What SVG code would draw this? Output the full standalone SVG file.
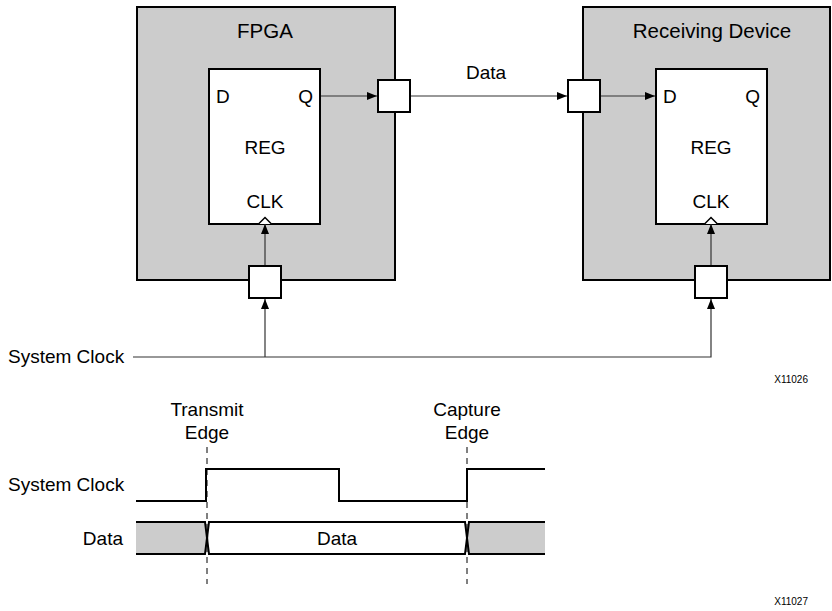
<svg xmlns="http://www.w3.org/2000/svg" width="832" height="611" viewBox="0 0 832 611">
<defs>
<style>
text{font-family:"Liberation Sans",Arial,sans-serif;fill:#000}
.lbl{font-size:19px}
.big{font-size:20.5px}
.tiny{font-size:10px}
.dev{fill:#cccccc;stroke:#000;stroke-width:2}
.reg{fill:#fff;stroke:#000;stroke-width:2}
.pad{fill:#fff;stroke:#000;stroke-width:2}
.wire{fill:none;stroke:#333;stroke-width:1.2}
.wave{fill:none;stroke:#000;stroke-width:2}
.dash{fill:none;stroke:#000;stroke-width:1;stroke-dasharray:6,5}
</style>
<marker id="arr" viewBox="0 0 10 8" refX="10" refY="4" markerWidth="10" markerHeight="8" markerUnits="userSpaceOnUse" orient="auto">
<path d="M0,0 L10,4 L0,8 z" fill="#000"/>
</marker>
</defs>
<g id="fpga">
<rect class="dev" x="137" y="7" width="258" height="273"/>
<text class="big" x="265" y="38" text-anchor="middle">FPGA</text>
</g>
<g id="fpga-reg">
<rect class="reg" x="209" y="69" width="111" height="155"/>
<text class="lbl" x="216" y="103">D</text>
<text class="lbl" x="313" y="103" text-anchor="end">Q</text>
<text class="lbl" x="265" y="154" text-anchor="middle">REG</text>
<text class="lbl" x="265" y="208" text-anchor="middle">CLK</text>
<path d="M258.5,224 L265,217.5 L271.5,224" fill="#fff" stroke="#000" stroke-width="1.5"/>
</g>
<g id="fpga-out-pad"><rect class="pad" x="378" y="80" width="32" height="32"/></g>
<g id="fpga-clk-pad"><rect class="pad" x="249" y="266" width="32" height="32"/></g>
<g id="rx">
<rect class="dev" x="583" y="7" width="247" height="273"/>
<text class="big" x="712" y="38" text-anchor="middle">Receiving Device</text>
</g>
<g id="rx-reg">
<rect class="reg" x="656" y="69" width="111" height="155"/>
<text class="lbl" x="663" y="103">D</text>
<text class="lbl" x="760" y="103" text-anchor="end">Q</text>
<text class="lbl" x="711" y="154" text-anchor="middle">REG</text>
<text class="lbl" x="711" y="208" text-anchor="middle">CLK</text>
<path d="M704.5,224 L711,217.5 L717.5,224" fill="#fff" stroke="#000" stroke-width="1.5"/>
</g>
<g id="rx-in-pad"><rect class="pad" x="568" y="80" width="32" height="32"/></g>
<g id="rx-clk-pad"><rect class="pad" x="695" y="266" width="32" height="32"/></g>
<g id="connectors">
<line class="wire" x1="321" y1="96" x2="377" y2="96" marker-end="url(#arr)"/>
<line class="wire" x1="411" y1="96" x2="567" y2="96" marker-end="url(#arr)"/>
<line class="wire" x1="601" y1="96" x2="655" y2="96" marker-end="url(#arr)"/>
<line class="wire" x1="265" y1="265" x2="265" y2="224" marker-end="url(#arr)"/>
<line class="wire" x1="711" y1="265" x2="711" y2="224" marker-end="url(#arr)"/>
<polyline class="wire" points="133,357 711,357 711,299" marker-end="url(#arr)"/>
<line class="wire" x1="265" y1="357" x2="265" y2="299" marker-end="url(#arr)"/>
</g>
<g id="labels">
<text class="lbl" x="486" y="79" text-anchor="middle">Data</text>
<text class="lbl" x="8" y="363">System Clock</text>
<text class="tiny" x="808" y="383" text-anchor="end">X11026</text>
</g>
<g id="timing">
<text class="lbl" x="207" y="416" text-anchor="middle">Transmit</text>
<text class="lbl" x="207" y="439" text-anchor="middle">Edge</text>
<text class="lbl" x="467" y="416" text-anchor="middle">Capture</text>
<text class="lbl" x="467" y="439" text-anchor="middle">Edge</text>
<line class="dash" x1="207" y1="447" x2="207" y2="584"/>
<line class="dash" x1="467" y1="447" x2="467" y2="584"/>
<text class="lbl" x="8" y="491">System Clock</text>
<polyline class="wave" points="136,501 206,501 206,469 339,469 339,501 467,501 467,469 545,469"/>
<text class="lbl" x="123" y="545" text-anchor="end">Data</text>
<path d="M136,522 L205,522 L209,538 L205,554 L136,554 z" fill="#cccccc"/>
<path d="M545,522 L470,522 L466,538 L470,554 L545,554 z" fill="#cccccc"/>
<path class="wave" d="M136,554 L205,554 L209,522 L465,522 L469,554 L545,554"/>
<path class="wave" d="M136,522 L205,522 L209,554 L465,554 L469,522 L545,522"/>
<text class="lbl" x="337" y="545" text-anchor="middle">Data</text>
<text class="tiny" x="808" y="605" text-anchor="end">X11027</text>
</g>
</svg>
